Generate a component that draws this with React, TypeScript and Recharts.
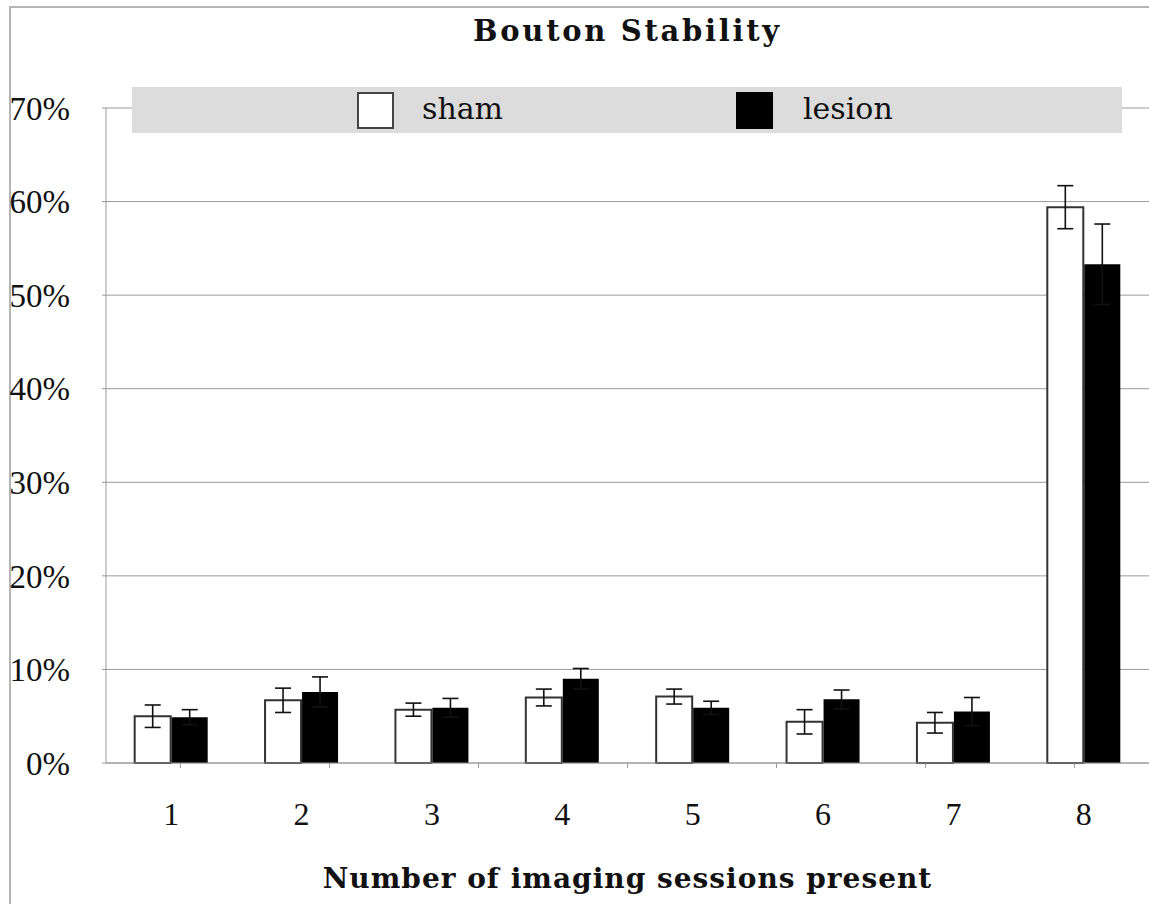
import { Bar, BarChart, CartesianGrid, ErrorBar, XAxis, YAxis } from "recharts";

const sessions = ["1", "2", "3", "4", "5", "6", "7", "8"];
const shamValues = [5.0, 6.7, 5.7, 7.0, 7.1, 4.4, 4.3, 59.4];
const shamErrors = [1.2, 1.3, 0.7, 0.9, 0.8, 1.3, 1.1, 2.3];
const lesionValues = [4.9, 7.6, 5.9, 9.0, 5.9, 6.8, 5.5, 53.3];
const lesionErrors = [0.8, 1.6, 1.0, 1.1, 0.7, 1.0, 1.5, 4.3];
const yTicks = [0, 10, 20, 30, 40, 50, 60, 70];
const edgeTicks = [0.5, 1.5, 2.5, 3.5, 4.5, 5.5, 6.5, 7.5, 8.5];

const data = sessions.map((s, i) => ({
	session: s,
	sham: shamValues[i],
	shamErr: shamErrors[i],
	lesion: lesionValues[i],
	lesionErr: lesionErrors[i],
}));

const SERIF = "'DejaVu Serif', serif";
const NUM_FONT = "'Liberation Serif', serif";
const AXIS_GREY = "#9a9a9a";

export default function App() {
	return (
		<div
			style={{
				position: "fixed",
				left: 0,
				top: 0,
				width: 1149,
				height: 904,
				overflow: "hidden",
				background: "#fff",
			}}
		>
			{/* outer frame, cropped on the right and bottom like the source */}
			<div
				style={{
					position: "absolute",
					left: 9,
					top: 6,
					width: 1300,
					height: 1000,
					border: "2px solid #b5b5b5",
				}}
			/>
			<div style={{ position: "absolute", left: 0, top: 0 }}>
				<BarChart
					width={1149}
					height={904}
					data={data}
					margin={{ top: 108, right: 0, bottom: 0, left: 0 }}
					barGap={1}
					barCategoryGap="22%"
				>
					<CartesianGrid vertical={false} stroke={AXIS_GREY} xAxisId="axisB" />
					{/* category boundary ticks sit on the baseline */}
					<XAxis
						xAxisId="axisA"
						type="number"
						domain={[0.5, 8.5]}
						ticks={edgeTicks}
						height={1}
						tickSize={5}
						tickFormatter={() => ""}
						stroke={AXIS_GREY}
						allowDataOverflow
					/>
					<XAxis
						xAxisId="axisB"
						dataKey="session"
						height={140}
						tickLine={false}
						axisLine={false}
						tickSize={0}
						tickMargin={38}
						tick={{ fontFamily: NUM_FONT, fontSize: 32, fill: "#111" }}
					/>
					<YAxis
						width={106}
						domain={[0, 70]}
						ticks={yTicks}
						tickFormatter={(v: number) => `${v}%`}
						tickSize={4}
						tickMargin={32}
						stroke={AXIS_GREY}
						tick={{ fontFamily: NUM_FONT, fontSize: 33, fill: "#111" }}
					/>
					<Bar
						xAxisId="axisB"
						dataKey="sham"
						fill="#fff"
						stroke="#333"
						strokeWidth={2}
						isAnimationActive={false}
					>
						<ErrorBar dataKey="shamErr" width={8} stroke="#111" strokeWidth={1.6} />
					</Bar>
					<Bar xAxisId="axisB" dataKey="lesion" fill="#000" isAnimationActive={false}>
						<ErrorBar dataKey="lesionErr" width={8} stroke="#111" strokeWidth={1.6} />
					</Bar>
				</BarChart>
			</div>
			<div
				style={{
					position: "absolute",
					left: 106,
					width: 1043,
					top: 14,
					textAlign: "center",
					fontFamily: SERIF,
					fontWeight: "bold",
					fontSize: 29,
					letterSpacing: 2.7,
					color: "#111",
				}}
			>
				Bouton Stability
			</div>
			{/* legend band */}
			<div
				style={{
					position: "absolute",
					left: 132,
					top: 87,
					width: 990,
					height: 46,
					background: "#dcdcdc",
					fontFamily: SERIF,
					fontSize: 30,
					color: "#111",
				}}
			>
				<div
					style={{
						position: "absolute",
						left: 225,
						top: 5,
						width: 33,
						height: 33,
						background: "#fff",
						border: "2px solid #444",
					}}
				/>
				<div style={{ position: "absolute", left: 290, top: 2, lineHeight: "40px" }}>sham</div>
				<div
					style={{
						position: "absolute",
						left: 604,
						top: 5,
						width: 37,
						height: 37,
						background: "#000",
					}}
				/>
				<div style={{ position: "absolute", left: 671, top: 2, lineHeight: "40px" }}>lesion</div>
			</div>
			<div
				style={{
					position: "absolute",
					left: 106,
					width: 1043,
					top: 862,
					textAlign: "center",
					fontFamily: SERIF,
					fontWeight: "bold",
					fontSize: 28,
					letterSpacing: 1,
					color: "#111",
				}}
			>
				Number of imaging sessions present
			</div>
		</div>
	);
}
